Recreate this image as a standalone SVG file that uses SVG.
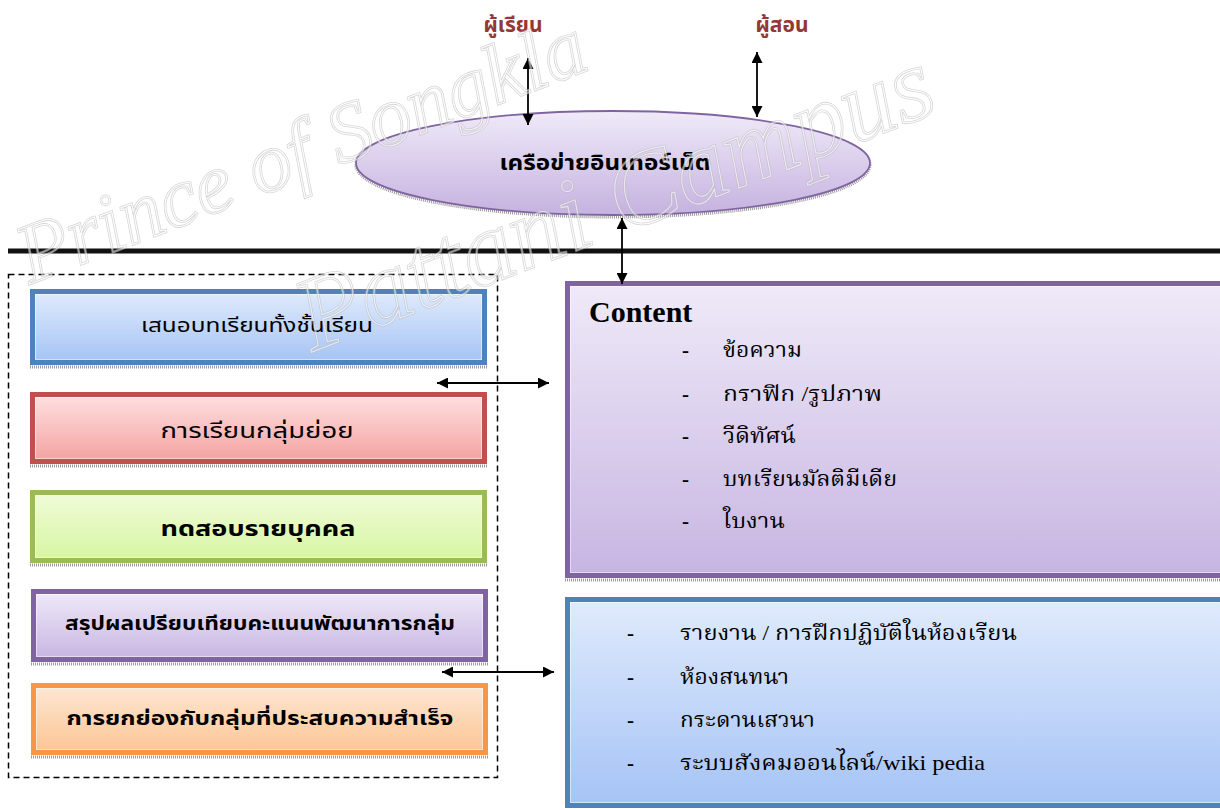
<svg xmlns="http://www.w3.org/2000/svg" width="1220" height="810" viewBox="0 0 1220 810">
<defs>
<style>
.th{font-family:"Noto Sans Thai","Noto Sans","DejaVu Sans",sans-serif;fill:#000;}
.ths{font-family:"Liberation Serif","Noto Serif Thai","Noto Sans Thai",serif;fill:#000;}
.b{font-weight:bold;}
.who{font-family:"Noto Sans Thai","Noto Sans",sans-serif;font-weight:bold;fill:#953735;font-size:21px;}
.conn{stroke:#000;stroke-width:1.8;fill:none;marker-start:url(#ah);marker-end:url(#ah);}
.shadow{stroke:#9a9a9a;stroke-width:3;stroke-dasharray:1 1;fill:none;}
.wm{font-family:"Liberation Serif","DejaVu Serif",serif;font-style:italic;fill:none;}
.wmo{stroke:#bcbcbc;stroke-width:2.6;}
.wmi{stroke:#fff;stroke-width:1;}
</style>
<marker id="ah" viewBox="0 0 10 10" refX="10" refY="5" markerWidth="11" markerHeight="11" markerUnits="userSpaceOnUse" orient="auto-start-reverse">
<path d="M0,0 L10,5 L0,10 z" fill="#000"/>
</marker>
<linearGradient id="gPur" x1="0" y1="0" x2="0" y2="1"><stop offset="0" stop-color="#efeaf8"/><stop offset="1" stop-color="#c7b5e2"/></linearGradient>
<linearGradient id="gBlue" x1="0" y1="0" x2="0" y2="1"><stop offset="0" stop-color="#e0ebfc"/><stop offset="1" stop-color="#a5c3f5"/></linearGradient>
<linearGradient id="gRed" x1="0" y1="0" x2="0" y2="1"><stop offset="0" stop-color="#ffe1e1"/><stop offset="1" stop-color="#f4a1a1"/></linearGradient>
<linearGradient id="gGreen" x1="0" y1="0" x2="0" y2="1"><stop offset="0" stop-color="#f1fbd9"/><stop offset="1" stop-color="#d6f6a2"/></linearGradient>
<linearGradient id="gOrange" x1="0" y1="0" x2="0" y2="1"><stop offset="0" stop-color="#fee7d3"/><stop offset="1" stop-color="#fbc594"/></linearGradient>
<linearGradient id="gEll" x1="0" y1="0" x2="0" y2="1"><stop offset="0" stop-color="#f0eaf8"/><stop offset="1" stop-color="#c5b2e0"/></linearGradient>
</defs>
<rect width="1220" height="810" fill="#fff"/>

<!-- divider line -->
<line x1="8" y1="251" x2="1220" y2="251" stroke="#111" stroke-width="5"/>

<!-- dashed container -->
<rect x="8.5" y="274.5" width="489" height="503" fill="none" stroke="#000" stroke-width="1.5" stroke-dasharray="6 4"/>

<g id="learner"><text class="who" x="513" y="32" text-anchor="middle">ผู้เรียน</text></g>
<g id="teacher"><text class="who" x="782" y="32" text-anchor="middle">ผู้สอน</text></g>

<g id="internet">
<ellipse cx="613" cy="165" rx="257" ry="52" class="shadow"/>
<ellipse cx="613" cy="163" rx="257" ry="52" fill="url(#gEll)" stroke="#8064a2" stroke-width="1.8"/>
<text class="th b" x="605" y="170" text-anchor="middle" font-size="21" textLength="211" lengthAdjust="spacingAndGlyphs">เครือข่ายอินเทอร์เน็ต</text>
</g>

<g id="box-whole-class">
<line x1="30" y1="367" x2="487" y2="367" class="shadow"/>
<rect x="32.5" y="291.5" width="452" height="71" fill="url(#gBlue)" stroke="#4f81bd" stroke-width="5"/>
<rect x="35.5" y="294.5" width="446" height="65" fill="none" stroke="#fff" stroke-opacity="0.5" stroke-width="1"/>
<text class="th" x="257" y="332" text-anchor="middle" font-size="19" textLength="232" lengthAdjust="spacingAndGlyphs">เสนอบทเรียนทั้งชั้นเรียน</text>
</g>

<g id="box-small-group">
<line x1="30" y1="466" x2="487" y2="466" class="shadow"/>
<rect x="32.5" y="394.5" width="452" height="67" fill="url(#gRed)" stroke="#c0504d" stroke-width="5"/>
<rect x="35.5" y="397.5" width="446" height="61" fill="none" stroke="#fff" stroke-opacity="0.5" stroke-width="1"/>
<text class="th" x="257" y="438" text-anchor="middle" font-size="22" textLength="193" lengthAdjust="spacingAndGlyphs">การเรียนกลุ่มย่อย</text>
</g>

<g id="box-individual-test">
<line x1="30" y1="565" x2="487" y2="565" class="shadow"/>
<rect x="32.5" y="492.5" width="452" height="68" fill="url(#gGreen)" stroke="#9bbb59" stroke-width="5"/>
<rect x="35.5" y="495.5" width="446" height="62" fill="none" stroke="#fff" stroke-opacity="0.5" stroke-width="1"/>
<text class="th b" x="258" y="536" text-anchor="middle" font-size="22" textLength="195" lengthAdjust="spacingAndGlyphs">ทดสอบรายบุคคล</text>
</g>

<g id="box-summary">
<line x1="31" y1="664" x2="488" y2="664" class="shadow"/>
<rect x="33.5" y="591.5" width="452" height="68" fill="url(#gPur)" stroke="#8064a2" stroke-width="5"/>
<rect x="36.5" y="594.5" width="446" height="62" fill="none" stroke="#fff" stroke-opacity="0.5" stroke-width="1"/>
<text class="th b" x="260" y="630" text-anchor="middle" font-size="19" textLength="390" lengthAdjust="spacingAndGlyphs">สรุปผลเปรียบเทียบคะแนนพัฒนาการกลุ่ม</text>
</g>

<g id="box-praise">
<line x1="31" y1="757" x2="488" y2="757" class="shadow"/>
<rect x="33.5" y="685.5" width="452" height="67" fill="url(#gOrange)" stroke="#f79646" stroke-width="5"/>
<rect x="36.5" y="688.5" width="446" height="61" fill="none" stroke="#fff" stroke-opacity="0.5" stroke-width="1"/>
<text class="th b" x="260" y="725" text-anchor="middle" font-size="19" textLength="387" lengthAdjust="spacingAndGlyphs">การยกย่องกับกลุ่มที่ประสบความสำเร็จ</text>
</g>

<g id="box-content">
<line x1="565" y1="580" x2="1220" y2="580" class="shadow"/>
<rect x="567.5" y="283.5" width="660" height="292" fill="url(#gPur)" stroke="#8064a2" stroke-width="5"/>
<rect x="570.5" y="286.5" width="654" height="286" fill="none" stroke="#fff" stroke-opacity="0.5" stroke-width="1"/>
<text class="ths b" x="589" y="322" font-size="30">Content</text>
<g class="ths" font-size="21">
<text x="682" y="357" font-weight="bold">-</text><text x="723" y="357" textLength="79" lengthAdjust="spacingAndGlyphs">ข้อความ</text>
<text x="682" y="401" font-weight="bold">-</text><text x="723" y="401" textLength="159" lengthAdjust="spacingAndGlyphs">กราฟิก /รูปภาพ</text>
<text x="682" y="443" font-weight="bold">-</text><text x="723" y="443" textLength="73" lengthAdjust="spacingAndGlyphs">วีดิทัศน์</text>
<text x="682" y="486" font-weight="bold">-</text><text x="723" y="486" textLength="174" lengthAdjust="spacingAndGlyphs">บทเรียนมัลติมีเดีย</text>
<text x="682" y="528" font-weight="bold">-</text><text x="723" y="528" textLength="62" lengthAdjust="spacingAndGlyphs">ใบงาน</text>
</g>
</g>

<g id="box-activities">
<rect x="567.5" y="599.5" width="660" height="206" fill="url(#gBlue)" stroke="#4f81bd" stroke-width="5"/>
<rect x="570.5" y="602.5" width="654" height="200" fill="none" stroke="#fff" stroke-opacity="0.5" stroke-width="1"/>
<g class="ths" font-size="21">
<text x="627" y="640" font-weight="bold">-</text><text x="680" y="640" textLength="337" lengthAdjust="spacingAndGlyphs">รายงาน / การฝึกปฏิบัติในห้องเรียน</text>
<text x="627" y="684" font-weight="bold">-</text><text x="680" y="684" textLength="109" lengthAdjust="spacingAndGlyphs">ห้องสนทนา</text>
<text x="627" y="727" font-weight="bold">-</text><text x="680" y="727" textLength="135" lengthAdjust="spacingAndGlyphs">กระดานเสวนา</text>
<text x="627" y="770" font-weight="bold">-</text><text x="680" y="770" textLength="305" lengthAdjust="spacingAndGlyphs">ระบบสังคมออนไลน์/wiki pedia</text>
</g>
</g>

<g id="connectors">
<line class="conn" x1="528" y1="58" x2="528" y2="125"/>
<line class="conn" x1="757" y1="52" x2="757" y2="117"/>
<line class="conn" x1="622" y1="218" x2="622" y2="284"/>
<line class="conn" x1="437" y1="383" x2="549" y2="383"/>
<line class="conn" x1="442" y1="672" x2="554" y2="672"/>
</g>

<g id="watermark" opacity="0.6">
<g transform="translate(30,284) rotate(-21)">
<text class="wm wmo" font-size="84">Prince of Songkla</text>
<text class="wm wmi" font-size="84">Prince of Songkla</text>
</g>
<g transform="translate(312,352) rotate(-21)">
<text class="wm wmo" font-size="104">Pattani Campus</text>
<text class="wm wmi" font-size="104">Pattani Campus</text>
</g>
</g>
</svg>
